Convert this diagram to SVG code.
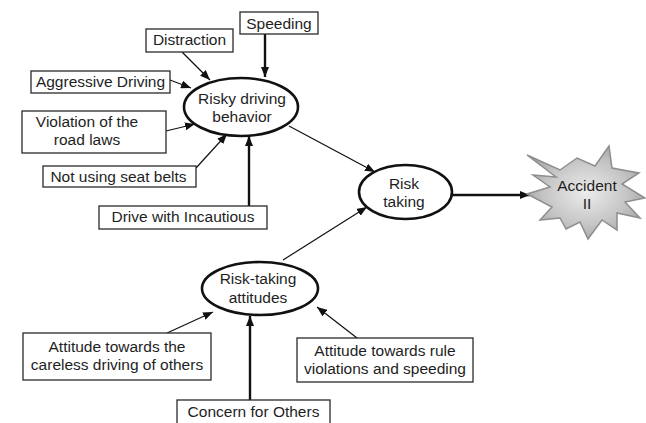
<svg xmlns="http://www.w3.org/2000/svg" width="646" height="423" viewBox="0 0 646 423">
<style>
text{font-family:"Liberation Sans",Arial,sans-serif;font-size:15.5px;fill:#1e1e1e;text-anchor:middle}
.box{fill:#fff;stroke:#2a2a2a;stroke-width:1.3}
.ell{fill:#fff;stroke:#111;stroke-width:2.6}
.thin{stroke:#111;stroke-width:1.2;fill:none;marker-end:url(#ah)}
.thick{stroke:#111;stroke-width:2.4;fill:none;marker-end:url(#ah)}
</style>
<defs>
<marker id="ah" viewBox="0 0 10 8" refX="10" refY="4" markerWidth="10" markerHeight="8" markerUnits="userSpaceOnUse" orient="auto"><path d="M0,0 L10,4 L0,8 z" fill="#111"/></marker>
<radialGradient id="sg" cx="0.5" cy="0.5" r="0.6"><stop offset="0" stop-color="#ececec"/><stop offset="0.6" stop-color="#c4c4c4"/><stop offset="1" stop-color="#9a9a9a"/></radialGradient>
</defs>
<g id="connectors">
<line class="thick" x1="265" y1="34" x2="265" y2="77"/>
<line class="thin" x1="182" y1="52" x2="210" y2="80"/>
<line class="thin" x1="170" y1="80" x2="191" y2="88"/>
<line class="thin" x1="166" y1="131" x2="195" y2="124"/>
<line class="thin" x1="196" y1="168" x2="227" y2="134"/>
<line class="thick" x1="249" y1="206" x2="249" y2="136"/>
<line class="thin" x1="289" y1="126" x2="375" y2="172"/>
<line class="thin" x1="283" y1="260" x2="367" y2="207"/>
<line class="thick" x1="452" y1="195" x2="530" y2="195"/>
<line class="thin" x1="167" y1="333" x2="213" y2="312"/>
<line class="thick" x1="250" y1="400" x2="250" y2="316"/>
<line class="thin" x1="357" y1="338" x2="317" y2="307"/>
</g>
<g id="speeding"><rect class="box" x="240" y="12" width="78" height="22"/><text x="279" y="28.5">Speeding</text></g>
<g id="distraction"><rect class="box" x="146" y="29" width="87" height="23"/><text x="189.5" y="45">Distraction</text></g>
<g id="aggressive"><rect class="box" x="31" y="71" width="139" height="22"/><text x="100.5" y="86.5">Aggressive Driving</text></g>
<g id="violation"><rect class="box" x="22" y="111" width="144" height="42"/><text x="87" y="127">Violation of the</text><text x="87" y="145">road laws</text></g>
<g id="seatbelts"><rect class="box" x="43" y="166" width="153" height="21"/><text x="118.5" y="182">Not using seat belts</text></g>
<g id="incautious"><rect class="box" x="99" y="206" width="168" height="23"/><text x="183" y="222">Drive with Incautious</text></g>
<g id="risky"><ellipse class="ell" cx="241" cy="107" rx="57" ry="29"/><text x="242" y="104">Risky driving</text><text x="242" y="122">behavior</text></g>
<g id="risktaking"><ellipse class="ell" cx="405.5" cy="192" rx="46.5" ry="27"/><text x="404" y="189">Risk</text><text x="404" y="207">taking</text></g>
<g id="accident"><polygon points="527,155 560,170 577,158 595,166 609,146 612,168 639,173 622,184 645,198 625,202 640,218 617,213 617,230 602,220 588,239 580,222 566,229 560,218 540,220 552,207 527,194 550,187 533,175 556,177" fill="url(#sg)" stroke="#8e8e8e" stroke-width="1.5" stroke-linejoin="miter"/><text x="587" y="191">Accident</text><text x="587" y="209">II</text></g>
<g id="attitudes"><ellipse class="ell" cx="260" cy="288.5" rx="58" ry="26.5"/><text x="258" y="284">Risk-taking</text><text x="258" y="303">attitudes</text></g>
<g id="careless"><rect class="box" x="23" y="333" width="188" height="47"/><text x="117" y="352">Attitude towards the</text><text x="117" y="370">careless driving of others</text></g>
<g id="rules"><rect class="box" x="297" y="338" width="176" height="44"/><text x="385" y="356">Attitude towards rule</text><text x="385" y="374">violations and speeding</text></g>
<g id="concern"><rect class="box" x="177" y="400" width="153" height="24"/><text x="253.5" y="417">Concern for Others</text></g>
</svg>
